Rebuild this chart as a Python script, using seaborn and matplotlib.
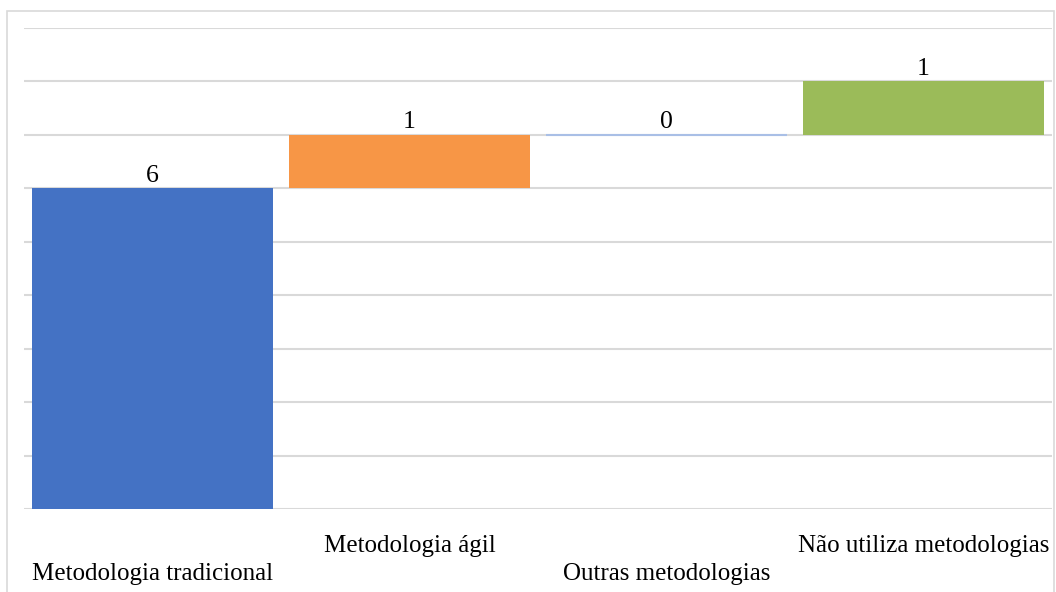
import matplotlib
matplotlib.use("Agg")
import matplotlib.pyplot as plt
import matplotlib.patches as mpatches
import seaborn as sns
import pandas as pd

# Waterfall data: each step adds to the running total
categories = ["Metodologia tradicional", "Metodologia ágil",
              "Outras metodologias", "Não utiliza metodologias"]
values = [6, 1, 0, 1]
colors = ["#4472C4", "#F79646", "#A9BFE6", "#9BBB59"]
y_max = 9

# starting level of each floating bar
starts = []
running = 0
for v in values:
    starts.append(running)
    running += v

sns.set_theme(style="white")
plt.rcParams["font.family"] = ["Liberation Serif", "DejaVu Serif"]

fig = plt.figure(figsize=(10.56, 5.92), dpi=100)
ax = fig.add_axes([24 / 1056, 83 / 592, 1028 / 1056, 481 / 592])

df = pd.DataFrame({"categoria": categories, "valor": values})
sns.barplot(data=df, x="categoria", y="valor", hue="categoria",
            palette=colors, legend=False, width=0.94, saturation=1,
            ax=ax, zorder=3)

# lift each bar to its running-total base
for patch, base, v, col in zip(ax.patches, starts, values, colors):
    patch.set_y(base)
    patch.set_height(v)
    if v == 0:
        patch.set_edgecolor(col)
        patch.set_linewidth(1.5)
    else:
        patch.set_linewidth(0)

# value labels above each bar
for i, (base, v) in enumerate(zip(starts, values)):
    ax.annotate(str(v), (i, base + v), xytext=(0, 1), textcoords="offset points",
                ha="center", va="bottom", fontsize=18.5, color="#000000",
                zorder=4)

ax.set_ylim(0, y_max)
ax.set_xlim(-0.5, len(categories) - 0.5)
ax.set_yticks(range(0, y_max + 1))
ax.set_yticklabels([])
ax.tick_params(axis="y", length=0)
ax.grid(axis="y", color="#D9D9D9", linewidth=1.5, zorder=0)
ax.set_axisbelow(True)
for s in ax.spines.values():
    s.set_visible(False)
ax.set_xlabel("")
ax.set_ylabel("")

# staggered category labels
ax.tick_params(axis="x", length=0, labelsize=18, colors="#000000")
for i, tick in enumerate(ax.xaxis.get_major_ticks()):
    tick.set_pad(39 if i % 2 == 0 else 19)

# light chart-area border
fig.patches.append(mpatches.Rectangle((7 / 1056, -0.05), 1047 / 1056, 0.05 + 581 / 592,
                                      transform=fig.transFigure, fill=False,
                                      edgecolor="#D9D9D9", linewidth=1.2))

fig.savefig("out.png", dpi=100)
